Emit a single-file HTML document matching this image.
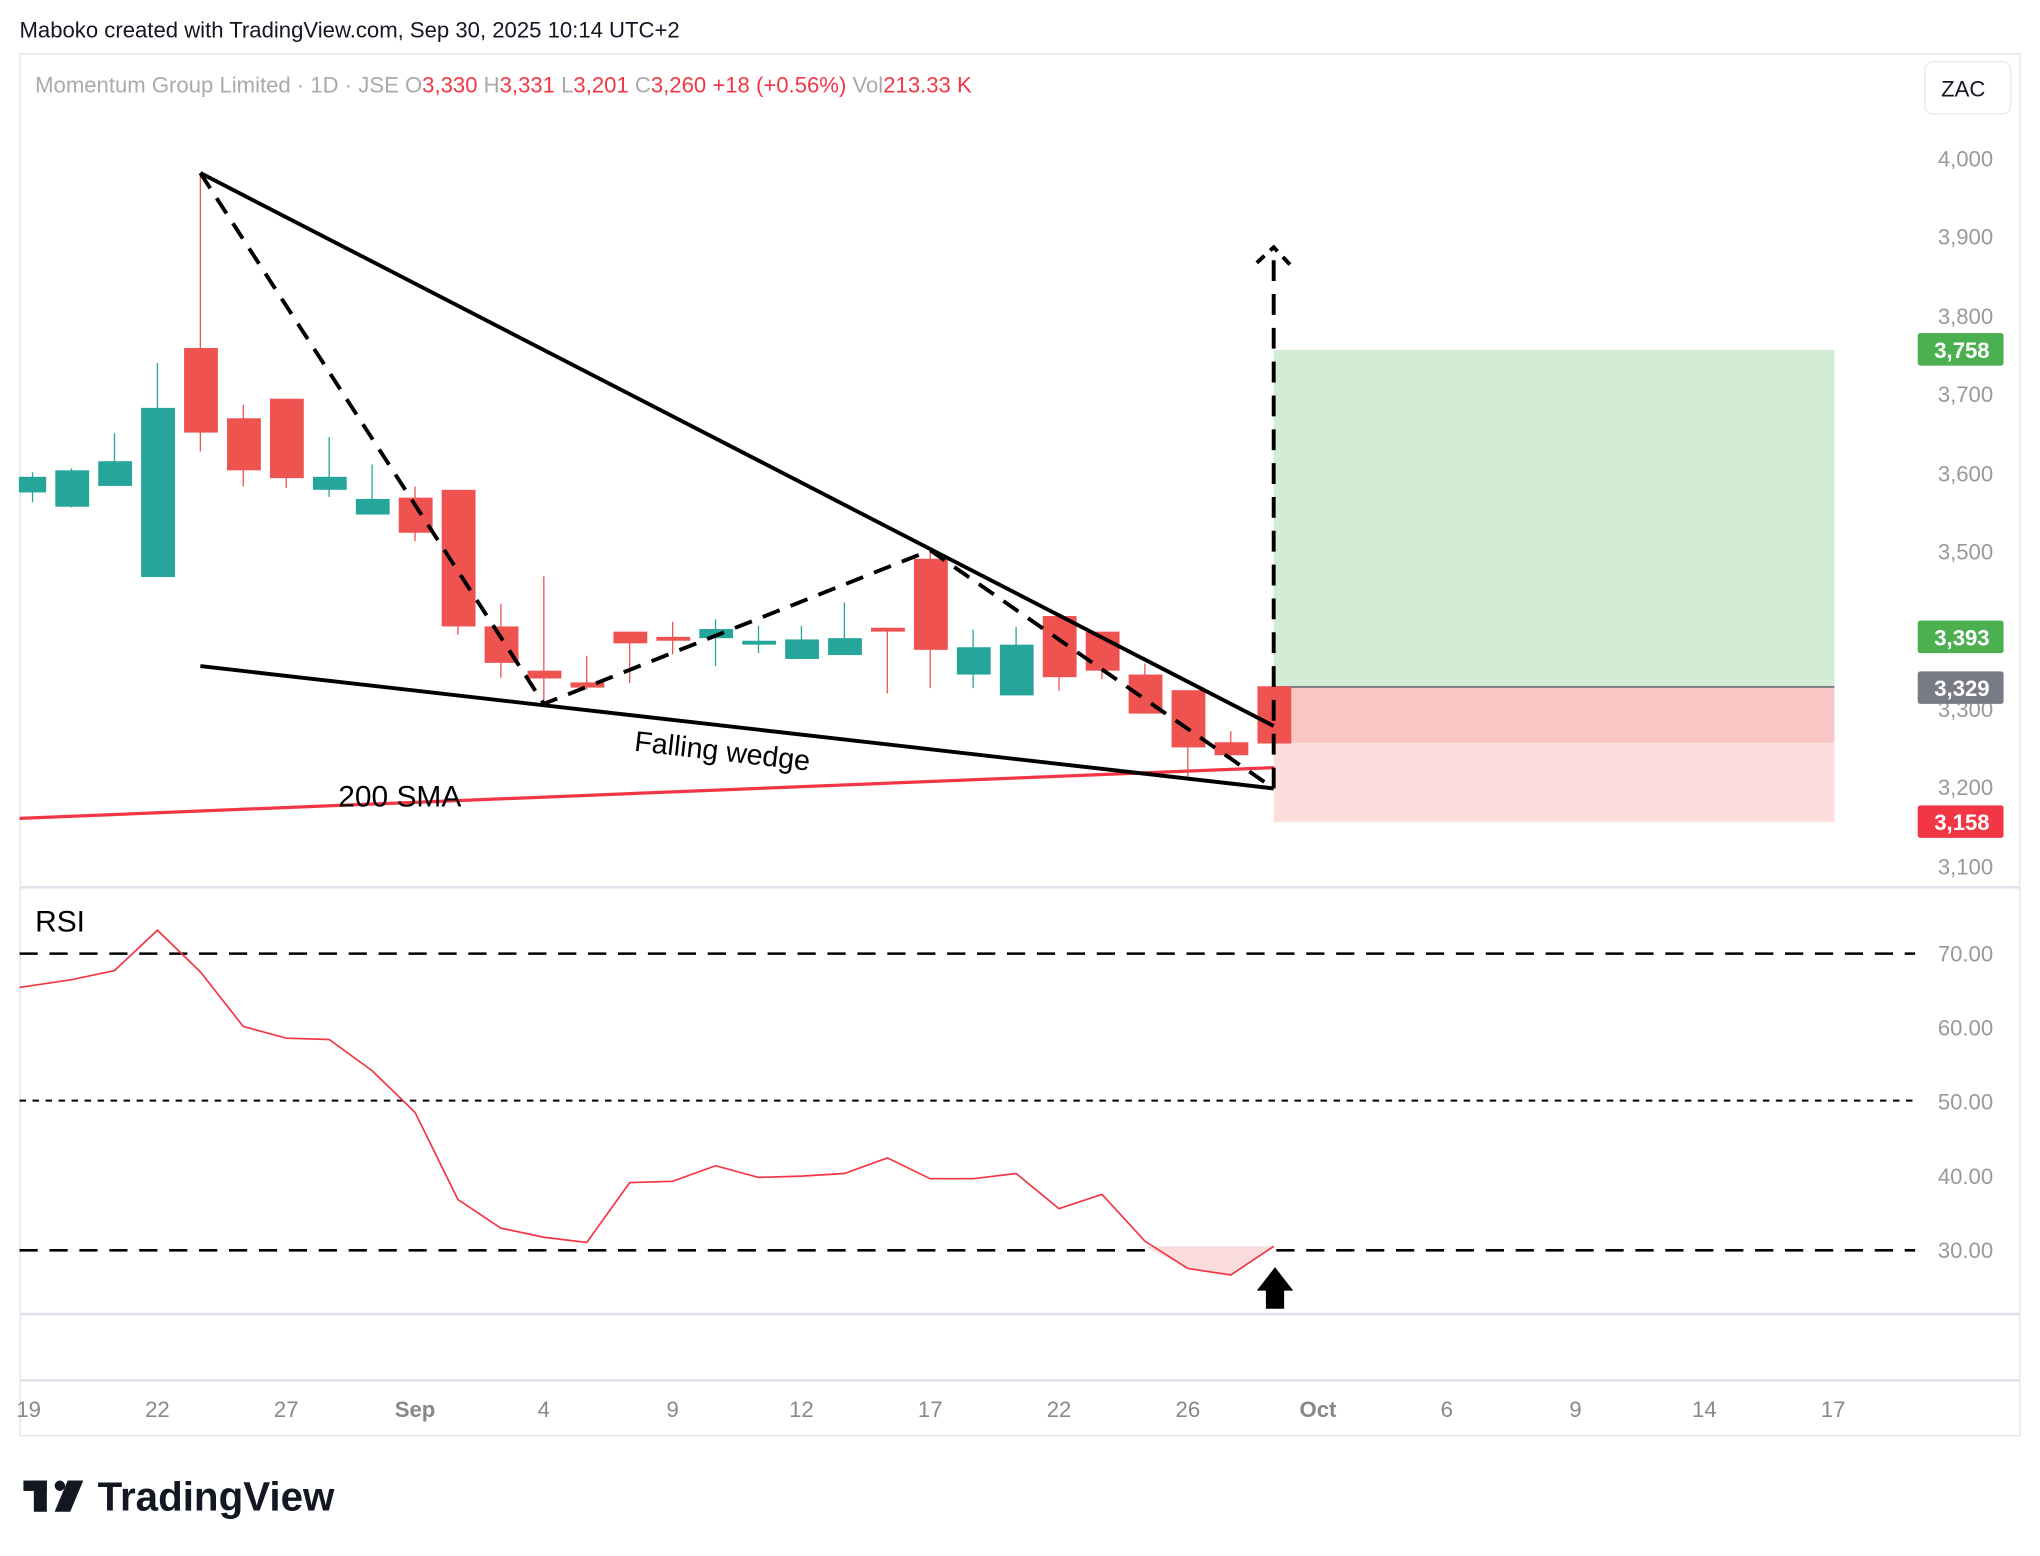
<!DOCTYPE html>
<html><head><meta charset="utf-8"><style>
html,body{margin:0;padding:0;background:#fff;}
svg{display:block;}
text{font-family:"Liberation Sans","DejaVu Sans",sans-serif;}
</style></head><body>
<svg width="2040" height="1556" viewBox="0 0 1568 1196" preserveAspectRatio="none" xmlns="http://www.w3.org/2000/svg">
<rect width="1568" height="1196" fill="#fff"/>
<text x="15" y="29" font-size="17" fill="#131722">Maboko created with TradingView.com, Sep 30, 2025 10:14 UTC+2</text>
<rect x="15.5" y="41.5" width="1537" height="1062" fill="none" stroke="#e0e3eb"/>
<line x1="15" y1="682" x2="1552" y2="682" stroke="#e0e3eb" stroke-width="2"/>
<line x1="15" y1="1010" x2="1552" y2="1010" stroke="#e0e3eb" stroke-width="2"/>
<line x1="15" y1="1061" x2="1552" y2="1061" stroke="#e0e3eb" stroke-width="2"/>
<text x="27" y="71" font-size="17" fill="#aaa">Momentum Group Limited · 1D · JSE <tspan fill="#aaa">O</tspan><tspan fill="#f23645">3,330</tspan> <tspan fill="#aaa">H</tspan><tspan fill="#f23645">3,331</tspan> <tspan fill="#aaa">L</tspan><tspan fill="#f23645">3,201</tspan> <tspan fill="#aaa">C</tspan><tspan fill="#f23645">3,260 +18 (+0.56%)</tspan> <tspan fill="#aaa">Vol</tspan><tspan fill="#f23645">213.33 K</tspan></text>
<rect x="1479.5" y="47.5" width="66" height="40" rx="6" fill="#fff" stroke="#e8e8e8"/>
<text x="1509" y="74" font-size="17" fill="#131722" text-anchor="middle">ZAC</text>
<g font-size="17" fill="#999" text-anchor="end">
<text x="1532" y="128">4,000</text><text x="1532" y="188">3,900</text><text x="1532" y="249">3,800</text><text x="1532" y="309">3,700</text><text x="1532" y="370">3,600</text><text x="1532" y="430">3,500</text><text x="1532" y="551">3,300</text><text x="1532" y="611">3,200</text><text x="1532" y="672">3,100</text>
<text x="1532" y="739">70.00</text><text x="1532" y="796">60.00</text><text x="1532" y="853">50.00</text><text x="1532" y="910">40.00</text><text x="1532" y="967">30.00</text>
</g>
<!-- position boxes -->
<rect x="979" y="269" width="431" height="259" fill="#d3ecd5"/>
<rect x="979" y="528" width="431" height="43" fill="#f9c7c3"/>
<rect x="979" y="571" width="431" height="61" fill="#fcdfdc"/>
<line x1="979" y1="528" x2="1410" y2="528" stroke="#787b86" stroke-width="1.5"/>
<g font-size="17" fill="#fff" text-anchor="middle" font-weight="bold">
<rect x="1474" y="256" width="66" height="25" rx="2" fill="#4caf50"/><text x="1508" y="275">3,758</text>
<rect x="1474" y="477" width="66" height="25" rx="2" fill="#4caf50"/><text x="1508" y="496">3,393</text>
<rect x="1474" y="516" width="66" height="25" rx="2" fill="#787b86"/><text x="1508" y="535">3,329</text>
<rect x="1474" y="619" width="66" height="25" rx="2" fill="#f23645"/><text x="1508" y="638">3,158</text>
</g>
<!-- SMA -->
<line x1="15" y1="629" x2="979" y2="590" stroke="#f23645" stroke-width="2.5"/>
<!-- candles -->
<g id="c">
<g stroke="#26a69a" fill="#26a69a"><line x1="25" y1="363" x2="25" y2="386"/><rect x="15" y="367" width="20" height="11"/>
<line x1="55" y1="360" x2="55" y2="390"/><rect x="43" y="362" width="25" height="27"/>
<line x1="88" y1="333" x2="88" y2="373"/><rect x="76" y="355" width="25" height="18"/>
<line x1="121" y1="279" x2="121" y2="443"/><rect x="109" y="314" width="25" height="129"/>
<line x1="253" y1="336" x2="253" y2="382"/><rect x="241" y="367" width="25" height="9"/>
<line x1="286" y1="357" x2="286" y2="395"/><rect x="274" y="384" width="25" height="11"/>
<line x1="550" y1="476" x2="550" y2="512"/><rect x="538" y="484" width="25" height="6"/>
<line x1="583" y1="481" x2="583" y2="502"/><rect x="571" y="493" width="25" height="2"/>
<line x1="616" y1="481" x2="616" y2="506"/><rect x="604" y="492" width="25" height="14"/>
<line x1="649" y1="463" x2="649" y2="503"/><rect x="637" y="491" width="25" height="12"/>
<line x1="748" y1="484" x2="748" y2="529"/><rect x="736" y="498" width="25" height="20"/>
<line x1="781" y1="482" x2="781" y2="534"/><rect x="769" y="496" width="25" height="38"/>
</g>
<g stroke="#ef5350" fill="#ef5350">
<line x1="154" y1="133" x2="154" y2="347"/><rect x="142" y="268" width="25" height="64"/>
<line x1="187" y1="311" x2="187" y2="374"/><rect x="175" y="322" width="25" height="39"/>
<line x1="220" y1="307" x2="220" y2="375"/><rect x="208" y="307" width="25" height="60"/>
<line x1="319" y1="374" x2="319" y2="416"/><rect x="307" y="383" width="25" height="26"/>
<line x1="352" y1="377" x2="352" y2="488"/><rect x="340" y="377" width="25" height="104"/>
<line x1="385" y1="464" x2="385" y2="521"/><rect x="373" y="482" width="25" height="27"/>
<line x1="418" y1="443" x2="418" y2="540"/><rect x="406" y="516" width="25" height="5"/>
<line x1="451" y1="504" x2="451" y2="530"/><rect x="439" y="525" width="25" height="3"/>
<line x1="484" y1="486" x2="484" y2="525"/><rect x="472" y="486" width="25" height="8"/>
<line x1="517" y1="478" x2="517" y2="503"/><rect x="505" y="490" width="25" height="2"/>
<line x1="682" y1="483" x2="682" y2="533"/><rect x="670" y="483" width="25" height="2"/>
<line x1="715" y1="423" x2="715" y2="529"/><rect x="703" y="430" width="25" height="69"/>
<line x1="814" y1="474" x2="814" y2="531"/><rect x="802" y="474" width="25" height="46"/>
<line x1="847" y1="486" x2="847" y2="522"/><rect x="835" y="486" width="25" height="29"/>
<line x1="880" y1="510" x2="880" y2="548"/><rect x="868" y="519" width="25" height="29"/>
<line x1="913" y1="531" x2="913" y2="597"/><rect x="901" y="531" width="25" height="43"/>
<line x1="946" y1="562" x2="946" y2="583"/><rect x="934" y="571" width="25" height="9"/>
<rect x="967" y="528" width="25" height="43"/>
</g>
</g>
<!-- wedge -->
<g stroke="#000" stroke-width="3" fill="none">
<line x1="154" y1="133" x2="979" y2="558"/>
<line x1="154" y1="512" x2="979" y2="606"/>
<polyline points="154,133 418,541 451,528 715,423 979,606" stroke-dasharray="14,9"/>
<line x1="979" y1="606" x2="979" y2="198" stroke-dasharray="16,10"/>
<polyline points="966,202 979,190 993,205" stroke-dasharray="8,6"/>
</g>
<text x="487" y="577" font-size="22" fill="#000" transform="rotate(6.5 487 577)">Falling wedge</text>
<text x="260" y="620" font-size="23" fill="#000">200 SMA</text>
<!-- RSI -->
<text x="27" y="716" font-size="23" fill="#000">RSI</text>
<g stroke="#000" stroke-width="2" stroke-dasharray="14,9"><line x1="15" y1="733" x2="1472" y2="733"/><line x1="15" y1="961" x2="1472" y2="961"/></g>
<line x1="15" y1="846" x2="1472" y2="846" stroke="#000" stroke-width="1.5" stroke-dasharray="5,5"/>
<polygon points="880,958 913,975 946,980 979,958" fill="#fbdcdc"/>
<polyline fill="none" stroke="#f23645" stroke-width="1.3" points="15,759 55,753 88,746 121,715 154,747 187,789 220,798 253,799 286,823 319,855 352,922 385,944 418,951 451,955 484,909 517,908 550,896 583,905 616,904 649,902 682,890 715,906 748,906 781,902 814,929 847,918 880,954 913,975 946,980 979,958"/>
<polygon points="980,974 966,992 973,992 973,1006 987,1006 987,992 994,992" fill="#000"/>
<!-- x axis -->
<g font-size="17" fill="#888" text-anchor="middle">
<text x="22" y="1089">19</text><text x="121" y="1089">22</text><text x="220" y="1089">27</text><text x="319" y="1089" font-weight="bold">Sep</text><text x="418" y="1089">4</text><text x="517" y="1089">9</text><text x="616" y="1089">12</text><text x="715" y="1089">17</text><text x="814" y="1089">22</text><text x="913" y="1089">26</text><text x="1013" y="1089" font-weight="bold">Oct</text><text x="1112" y="1089">6</text><text x="1211" y="1089">9</text><text x="1310" y="1089">14</text><text x="1409" y="1089">17</text>
</g>
<!-- logo -->
<g fill="#131722"><rect x="18" y="1138" width="18" height="8"/><rect x="26" y="1138" width="10" height="24"/><circle cx="46" cy="1142" r="4"/><polygon points="52,1138 64,1138 54,1162 42,1162"/></g>
<text x="75" y="1161" font-size="31" font-weight="bold" fill="#131722">TradingView</text>
</svg>
</body></html>
